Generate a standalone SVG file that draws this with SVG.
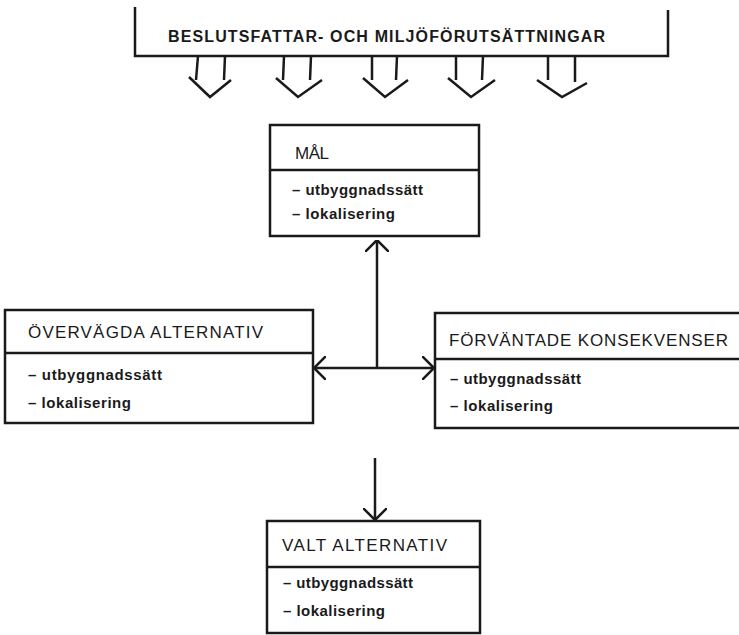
<svg xmlns="http://www.w3.org/2000/svg" width="739" height="635" viewBox="0 0 739 635">
  <defs>
    <style>
      .ln { fill: none; stroke: #1a1a1a; stroke-width: 2.5; }
      .box { fill: none; stroke: #1a1a1a; stroke-width: 2.5; }
      .hd { font-family: "Liberation Sans", Arial, sans-serif; font-size: 17px; fill: #1a1a1a; }
      .ttl { font-family: "Liberation Sans", Arial, sans-serif; font-size: 16px; font-weight: bold; fill: #1a1a1a; }
      .it { font-family: "Liberation Sans", Arial, sans-serif; font-size: 15px; font-weight: bold; fill: #1a1a1a; }
    </style>
    <marker id="open" viewBox="0 0 12 24" refX="12" refY="12" markerWidth="12" markerHeight="24" markerUnits="userSpaceOnUse" orient="auto">
      <path d="M0,0 L12,12 L0,24" fill="none" stroke="#1a1a1a" stroke-width="2.5"/>
    </marker>
  </defs>
  <rect width="739" height="635" fill="#ffffff"/>

  <g id="premises">
    <path class="ln" d="M135,7 V56 H668 V10"/>
    <text class="ttl" x="168" y="42" textLength="437" lengthAdjust="spacing">BESLUTSFATTAR- OCH MILJÖFÖRUTSÄTTNINGAR</text>
    <g id="input-arrows">
      <path class="ln" d="M198,56 L196,80 M225,56 L224,80 M189,77 L210,97 L231,80"/>
      <path class="ln" d="M284,56 L283,80 M311,56 L310,80 M276,78 L298,97 L322,80"/>
      <path class="ln" d="M372,56 L372,80 M397,56 L396,80 M363,78 L385,97 L408,80"/>
      <path class="ln" d="M456,56 L456,80 M483,56 L482,80 M448,78 L471,97 L495,80"/>
      <path class="ln" d="M548,56 L548,80 M575,56 L575,82 M537,80 L562,97 L587,83"/>
    </g>
  </g>

  <g id="mal">
    <rect class="box" x="270" y="125" width="209" height="111"/>
    <line class="ln" x1="270" y1="170" x2="479" y2="170"/>
    <text class="hd" x="295" y="159" textLength="34" lengthAdjust="spacing">MÅL</text>
    <text class="it" x="292" y="195" textLength="131" lengthAdjust="spacing">– utbyggnadssätt</text>
    <text class="it" x="292" y="219" textLength="103" lengthAdjust="spacing">– lokalisering</text>
  </g>

  <g id="overvagda">
    <rect class="box" x="5" y="310" width="308" height="113"/>
    <line class="ln" x1="5" y1="353" x2="313" y2="353"/>
    <text class="hd" x="28" y="338" textLength="235" lengthAdjust="spacing">ÖVERVÄGDA ALTERNATIV</text>
    <text class="it" x="28" y="380" textLength="134" lengthAdjust="spacing">– utbyggnadssätt</text>
    <text class="it" x="28" y="408" textLength="103" lengthAdjust="spacing">– lokalisering</text>
  </g>

  <g id="forvantade">
    <rect class="box" x="435" y="313" width="320" height="115"/>
    <line class="ln" x1="435" y1="359" x2="755" y2="359"/>
    <text class="hd" x="449" y="346" textLength="279" lengthAdjust="spacing">FÖRVÄNTADE KONSEKVENSER</text>
    <text class="it" x="450" y="384" textLength="131" lengthAdjust="spacing">– utbyggnadssätt</text>
    <text class="it" x="450" y="411" textLength="103" lengthAdjust="spacing">– lokalisering</text>
  </g>

  <g id="valt">
    <rect class="box" x="267" y="521" width="213" height="112"/>
    <line class="ln" x1="267" y1="567" x2="480" y2="567"/>
    <text class="hd" x="282" y="551" textLength="165" lengthAdjust="spacing">VALT ALTERNATIV</text>
    <text class="it" x="283" y="588" textLength="130" lengthAdjust="spacing">– utbyggnadssätt</text>
    <text class="it" x="283" y="616" textLength="102" lengthAdjust="spacing">– lokalisering</text>
  </g>

  <g id="connectors">
    <path class="ln" d="M377,368 V240" marker-end="url(#open)"/>
    <path class="ln" d="M377,368 H314" marker-end="url(#open)"/>
    <path class="ln" d="M377,368 H434" marker-end="url(#open)"/>
    <path class="ln" d="M375,458 V520" marker-end="url(#open)"/>
  </g>
</svg>
